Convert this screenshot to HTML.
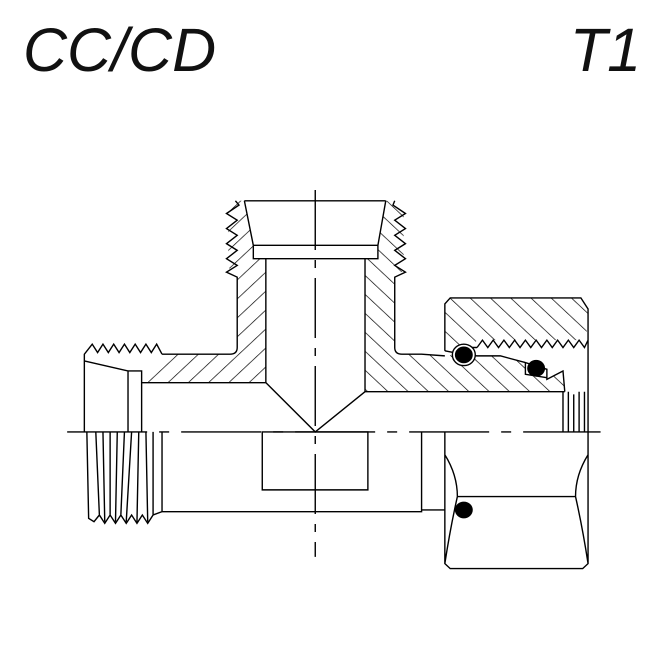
<!DOCTYPE html>
<html><head><meta charset="utf-8"><style>
html,body{margin:0;padding:0;background:#fff;}
body{width:671px;height:668px;position:relative;overflow:hidden;font-family:"Liberation Sans",sans-serif;}
.t{position:absolute;font-style:italic;font-size:61px;line-height:1;color:#111;top:20px;}
</style></head><body>
<div class="t" style="left:23px;">CC/CD</div>
<div class="t" style="right:30px;">T1</div>
<svg width="671" height="668" style="position:absolute;left:0;top:0">
<defs>
<pattern id="h1" patternUnits="userSpaceOnUse" width="40" height="40" patternTransform="rotate(45)">
<line x1="0" y1="0" x2="0" y2="40" stroke="#000" stroke-width="4"/></pattern>
<pattern id="h2" patternUnits="userSpaceOnUse" width="40" height="40" patternTransform="rotate(-45)">
<line x1="0" y1="0" x2="0" y2="40" stroke="#000" stroke-width="4"/></pattern>
</defs>
<g transform="translate(60,180) scale(0.358,0.335)" fill="none" stroke="#000" stroke-width="1.4">
<polygon fill="url(#h1)" stroke="none" points="228,605 228,570 285,520 480,520 495,500 495,290 470,260 470,80 490,62 515,62 540,195 540,235 575,235 575,605"/>
<polygon fill="url(#h2)" stroke="none" points="852,632 852,235 888,235 888,195 910,62 935,62 960,80 960,270 935,290 935,500 955,520 1010,520 1075,528 1100,520 1165,522 1230,525 1300,545 1300,580 1360,595 1405,570 1410,632"/>
<polygon fill="url(#h2)" stroke="none" points="1075,370 1090,352 1455,352 1475,385 1470,478 1165,478 1150,500 1100,510 1075,510"/>
<g>
<path vector-effect="non-scaling-stroke" d="M515,62 H910 M515,62 L540,195 M910,62 L888,195 M540,195 H888 V235 H540 Z M575,235 V605 M852,235 V632 M575,605 L713,752 L852,632"/>
<path vector-effect="non-scaling-stroke" d="M490,62 L500,75 L465,100 L495,120 L465,145 L495,165 L465,190 L495,210 L465,235 L495,255 L465,275 L495,290 V500 Q495,520 475,520 H285"/>
<path vector-effect="non-scaling-stroke" d="M935,62 L930,75 L965,100 L935,120 L965,145 L935,165 L965,190 L935,210 L965,235 L935,255 L965,275 L935,290 V500 Q935,520 955,520 H1010 L1075,525"/>
<path vector-effect="non-scaling-stroke" d="M285,520 L270,490 L255,515 L240,490 L225,515 L210,490 L195,515 L180,490 L165,515 L150,490 L135,515 L120,490 L105,515 L90,490 L68,520 V752 M68,540 L190,570 M190,570 H228 V752 M190,570 V752 M228,605 H575"/>
<path vector-effect="non-scaling-stroke" d="M75,752 L80,1010 L95,1020 L110,1000 L125,1025 L140,1000 L155,1025 L170,1000 L185,1025 L200,1000 L215,1025 L230,1000 L245,1025 L260,1000 L285,990 V752 M100,752 L110,1000 M120,752 L125,1020 M140,752 L140,1000 M160,752 L155,1020 M180,752 L170,1000 M200,752 L185,1020 M220,752 L215,1020 M240,752 L245,1020 M260,752 L260,1000 M285,990 H1010 V752 M1010,985 H1075"/>
<rect vector-effect="non-scaling-stroke" x="565" y="752" width="295" height="173"/>
<path vector-effect="non-scaling-stroke" d="M852,632 H1410 M1410,632 L1405,570 L1360,595 L1360,565 L1300,545 V580 L1360,590 M1300,545 L1230,525 H1165 L1100,520"/>
<path vector-effect="non-scaling-stroke" d="M1075,510 V370 L1090,352 H1455 L1475,385 V752 M1165,500 L1180,478 L1195,500 L1210,478 L1225,500 L1240,478 L1255,500 L1270,478 L1285,500 L1300,478 L1315,500 L1330,478 L1345,500 L1360,478 L1375,500 L1390,478 L1405,500 L1420,478 L1435,500 L1450,478 L1465,500 L1475,478 M1165,500 L1150,500 M1405,632 V752 M1420,632 V752 M1435,640 V752 M1450,632 V752 M1465,632 V752 M1075,510 L1100,515"/>
<path vector-effect="non-scaling-stroke" d="M1075,752 V1145 L1090,1160 H1460 L1475,1145 V752 M1075,820 Q1110,880 1110,945 Q1090,1040 1075,1145 M1110,945 H1440 M1475,820 Q1440,880 1440,945 Q1460,1040 1475,1145"/>
<circle vector-effect="non-scaling-stroke" cx="1128" cy="522" r="32" fill="#fff"/>
<circle cx="1128" cy="522" r="25" fill="#000" stroke="none"/>
<circle cx="1330" cy="562" r="25" fill="#000" stroke="none"/>
<circle cx="1128" cy="985" r="25" fill="#000" stroke="none"/>
<path vector-effect="non-scaling-stroke" d="M713,30 V1125" stroke-dasharray="60,10,8,10"/>
<path vector-effect="non-scaling-stroke" d="M20,752 H1510" stroke-dasharray="80,12,10,12"/>
</g></g>
</svg>
</body></html>
